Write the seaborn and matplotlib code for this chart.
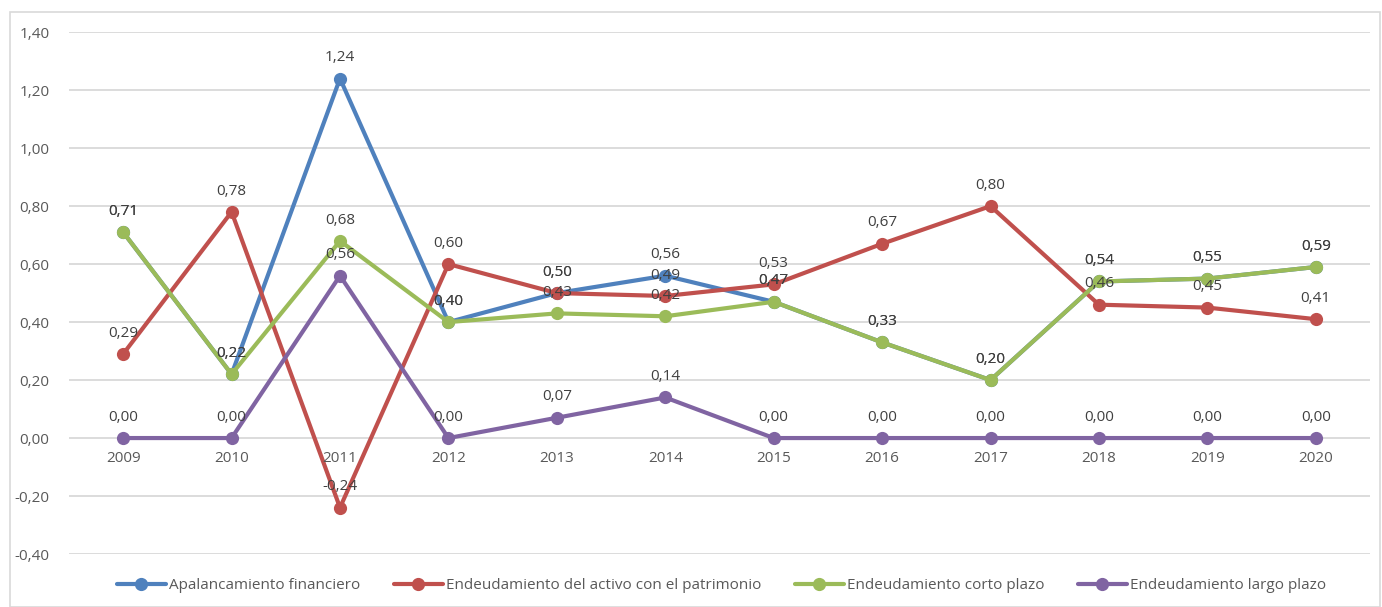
import matplotlib
matplotlib.use("Agg")
import matplotlib.pyplot as plt
import seaborn as sns
import pandas as pd
from matplotlib.patches import Rectangle

years = [2009, 2010, 2011, 2012, 2013, 2014, 2015, 2016, 2017, 2018, 2019, 2020]
series_names = ["Apalancamiento financiero",
                "Endeudamiento del activo con el patrimonio",
                "Endeudamiento corto plazo",
                "Endeudamiento largo plazo"]
apalancamiento = [0.71, 0.22, 1.24, 0.40, 0.50, 0.56, 0.47, 0.33, 0.20, 0.54, 0.55, 0.59]
activo_patrimonio = [0.29, 0.78, -0.24, 0.60, 0.50, 0.49, 0.53, 0.67, 0.80, 0.46, 0.45, 0.41]
corto_plazo = [0.71, 0.22, 0.68, 0.40, 0.43, 0.42, 0.47, 0.33, 0.20, 0.54, 0.55, 0.59]
largo_plazo = [0.00, 0.00, 0.56, 0.00, 0.07, 0.14, 0.00, 0.00, 0.00, 0.00, 0.00, 0.00]
colors = ["#4F81BD", "#C0504D", "#9BBB59", "#8064A2"]
y_ticks = [-0.40, -0.20, 0.00, 0.20, 0.40, 0.60, 0.80, 1.00, 1.20, 1.40]

values = [apalancamiento, activo_patrimonio, corto_plazo, largo_plazo]
rows = []
for name, vals in zip(series_names, values):
    for y, v in zip(years, vals):
        rows.append({"year": y, "value": v, "serie": name})
df = pd.DataFrame(rows)

sns.set_theme(style="white")
plt.rcParams['font.family'] = ['Open Sans', 'DejaVu Sans']

fig = plt.figure(figsize=(13.82, 6.07), dpi=100)
ax = fig.add_axes([0.0499, 0.0873, 0.9414, 0.8597])

sns.lineplot(data=df, x="year", y="value", hue="serie", hue_order=series_names,
             palette=colors, marker="o", markersize=9.5, markeredgewidth=0,
             linewidth=3.0, ax=ax, legend=True, sort=False)

ax.set_xlim(2008.5, 2020.5)
ax.set_ylim(-0.40, 1.40)
ax.set_yticks(y_ticks)
ax.set_yticklabels([f"{t:.2f}".replace(".", ",") for t in y_ticks],
                   color="#595959", fontsize=11)
ax.tick_params(axis="y", length=0, pad=14)
ax.set_xticks([])
ax.set_xlabel("")
ax.set_ylabel("")
ax.grid(axis="y", color="#D9D9D9", linewidth=1.3)
ax.set_axisbelow(True)
for s in ax.spines.values():
    s.set_visible(False)

# category labels next to the zero axis
for y in years:
    ax.annotate(str(y), xy=(y, 0), xytext=(0, -15), textcoords="offset points",
                ha="center", va="center", fontsize=11, color="#595959")

# data labels
for vals in values:
    for y, v in zip(years, vals):
        ax.annotate(f"{v:.2f}".replace(".", ","), xy=(y, v), xytext=(0, 15),
                    textcoords="offset points", ha="center", va="center",
                    fontsize=11, color="#404040", zorder=10)

handles, labels = ax.get_legend_handles_labels()
ax.get_legend().remove()
fig.legend(handles, labels, loc="center", bbox_to_anchor=(0.522, 0.035), ncol=4,
           frameon=False, fontsize=11, handlelength=3.2, handletextpad=0.2,
           columnspacing=2.2, labelcolor="#595959")

fig.patches.append(Rectangle((10 / 1382, 0), 1370 / 1382, 1 - 12 / 607,
                             transform=fig.transFigure, fill=False,
                             edgecolor="#D9D9D9", linewidth=1.2))

fig.savefig("out.png", dpi=100)
